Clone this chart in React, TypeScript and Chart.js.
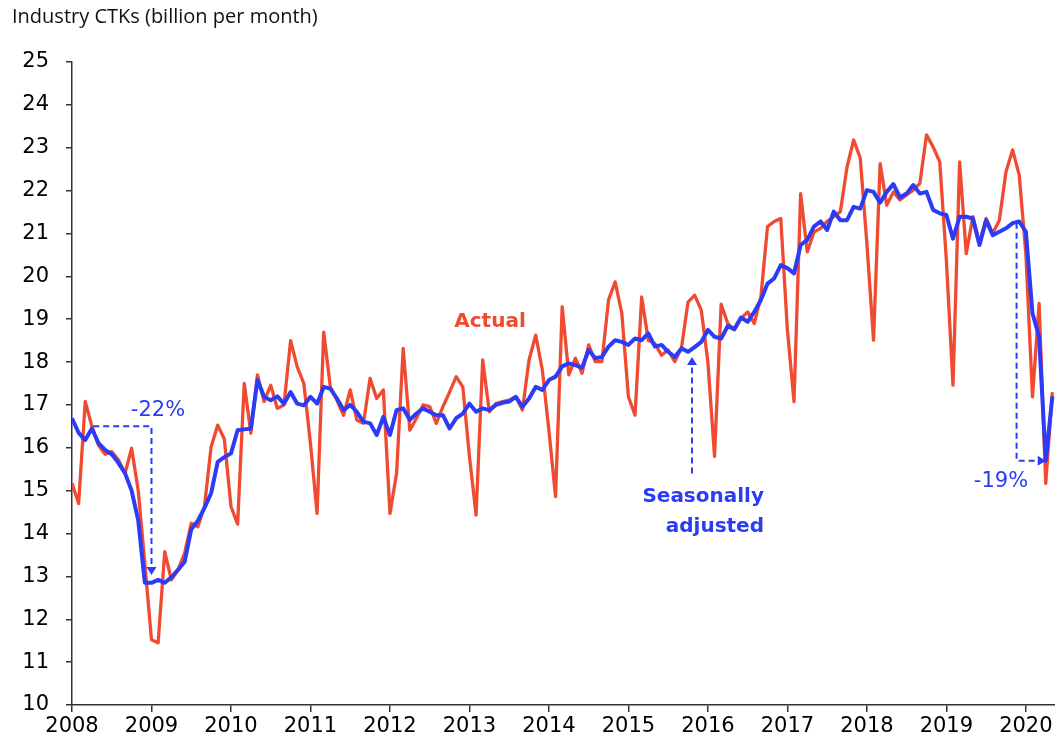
import React, { useEffect, useRef } from "react";
import { Chart, registerables } from "chart.js";

Chart.register(...registerables);

// Monthly data, Jan 2008 (index 0) .. May 2020 (index 148)
const yearLabels = ["2008", "2009", "2010", "2011", "2012", "2013", "2014", "2015", "2016", "2017", "2018", "2019", "2020"];

const actual = [
  15.17, 14.7, 17.08, 16.5, 16.06, 15.85, 15.91, 15.72, 15.4, 15.99, 15.0, 13.3,
  11.52, 11.45, 13.58, 12.92, 13.15, 13.54, 14.24, 14.16, 14.63, 16.02, 16.53, 16.2,
  14.63, 14.22, 17.5, 16.34, 17.7, 17.08, 17.46, 16.92, 17.0, 18.5, 17.89, 17.5,
  16.1, 14.47, 18.7, 17.42, 17.11, 16.76, 17.35, 16.65, 16.57, 17.62, 17.15, 17.35,
  14.47, 15.4, 18.32, 16.41, 16.69, 17.0, 16.96, 16.57, 16.96, 17.3, 17.66, 17.42,
  15.8, 14.43, 18.05, 16.84, 17.03, 17.08, 17.11, 17.19, 16.88, 18.05, 18.63, 17.82,
  16.4, 14.86, 19.29, 17.7, 18.09, 17.74, 18.4, 18.01, 18.01, 19.45, 19.87, 19.14,
  17.19, 16.76, 19.52, 18.51, 18.43, 18.16, 18.28, 18.01, 18.32, 19.4, 19.56, 19.21,
  18.0, 15.8, 19.35, 18.9, 18.75, 19.02, 19.17, 18.9, 19.52, 21.16, 21.28, 21.35,
  18.75, 17.08, 21.93, 20.57, 21.03, 21.12, 21.28, 21.39, 21.51, 22.55, 23.18, 22.76,
  20.77, 18.51, 22.63, 21.66, 21.97, 21.78, 21.9, 22.01, 22.17, 23.3, 23.02, 22.67,
  20.38, 17.46, 22.67, 20.53, 21.39, 20.77, 21.35, 21.0, 21.31, 22.44, 22.95, 22.36,
  20.53, 17.19, 19.37, 15.17, 17.3,
];

const seasonallyAdjusted = [
  16.69, 16.35, 16.18, 16.45, 16.11, 15.95, 15.85, 15.65, 15.41, 15.0, 14.3, 12.85,
  12.85, 12.92, 12.85, 12.98, 13.15, 13.34, 14.1, 14.3, 14.6, 14.94, 15.67, 15.78,
  15.87, 16.41, 16.43, 16.45, 17.58, 17.19, 17.11, 17.2, 17.03, 17.3, 17.03, 16.99,
  17.19, 17.03, 17.42, 17.38, 17.15, 16.88, 17.0, 16.84, 16.61, 16.57, 16.3, 16.72,
  16.3, 16.88, 16.92, 16.65, 16.8, 16.92, 16.84, 16.76, 16.76, 16.45, 16.69, 16.8,
  17.03, 16.84, 16.92, 16.88, 17.0, 17.05, 17.08, 17.19, 16.96, 17.15, 17.42, 17.35,
  17.58, 17.66, 17.9, 17.97, 17.93, 17.87, 18.28, 18.09, 18.12, 18.36, 18.51, 18.47,
  18.4, 18.55, 18.51, 18.67, 18.36, 18.4, 18.24, 18.12, 18.32, 18.24, 18.35, 18.47,
  18.75, 18.59, 18.55, 18.84, 18.77, 19.04, 18.94, 19.17, 19.45, 19.83, 19.95, 20.26,
  20.19, 20.07, 20.73, 20.85, 21.16, 21.28, 21.08, 21.51, 21.31, 21.31, 21.62, 21.58,
  22.01, 21.97, 21.72, 21.97, 22.15, 21.84, 21.93, 22.13, 21.93, 21.97, 21.55, 21.47,
  21.43, 20.88, 21.39, 21.39, 21.35, 20.73, 21.31, 20.96, 21.04, 21.12, 21.24, 21.28,
  21.04, 19.14, 18.59, 15.7, 17.2,
];

const BLUE = "#2B3BF6";
const RED = "#F04A30";
const AXIS = "#333333";

export default function App() {
  const ref = useRef<HTMLCanvasElement | null>(null);

  useEffect(() => {
    document.body.style.margin = "0";
    const canvas = ref.current;
    if (!canvas) return;

    const annot = {
      id: "annot",
      afterDatasetsDraw(chart: any) {
        const ctx = chart.ctx as CanvasRenderingContext2D;
        const xs = chart.scales.x;
        const ys = chart.scales.y;
        const px = (v: number) => xs.getPixelForValue(v);
        const py = (v: number) => ys.getPixelForValue(v);

        const dashed = (pts: [number, number][]) => {
          ctx.save();
          ctx.strokeStyle = BLUE;
          ctx.lineWidth = 2;
          ctx.setLineDash([6, 4]);
          ctx.beginPath();
          pts.forEach(([x, y], k) => {
            if (k === 0) ctx.moveTo(px(x), py(y));
            else ctx.lineTo(px(x), py(y));
          });
          ctx.stroke();
          ctx.restore();
        };
        const head = (x: number, y: number, dir: "down" | "up" | "right") => {
          const X = px(x);
          const Y = py(y);
          ctx.save();
          ctx.fillStyle = BLUE;
          ctx.beginPath();
          if (dir === "down") {
            ctx.moveTo(X, Y);
            ctx.lineTo(X - 5, Y - 8);
            ctx.lineTo(X + 5, Y - 8);
          } else if (dir === "up") {
            ctx.moveTo(X, Y);
            ctx.lineTo(X - 5, Y + 8);
            ctx.lineTo(X + 5, Y + 8);
          } else {
            ctx.moveTo(X, Y);
            ctx.lineTo(X - 8, Y - 5);
            ctx.lineTo(X - 8, Y + 5);
          }
          ctx.closePath();
          ctx.fill();
          ctx.restore();
        };

        // -22% arrow
        dashed([[3.2, 16.5], [12, 16.5], [12, 13.2]]);
        head(12, 13.03, "down");
        // -19% arrow
        dashed([[142.6, 21.25], [142.6, 15.7], [146.0, 15.7]]);
        head(147.0, 15.7, "right");
        // Seasonally adjusted arrow
        dashed([[93.6, 15.4], [93.6, 17.95]]);
        head(93.6, 18.12, "up");

        ctx.save();
        ctx.textBaseline = "middle";
        ctx.textAlign = "center";
        ctx.fillStyle = BLUE;
        ctx.font = "21px 'DejaVu Sans'";
        ctx.fillText("-22%", 158, 411);
        ctx.fillText("-19%", 1001, 482);
        ctx.fillStyle = RED;
        ctx.font = "bold 20px 'DejaVu Sans'";
        ctx.fillText("Actual", 490, 322);
        ctx.fillStyle = BLUE;
        ctx.textAlign = "right";
        ctx.fillText("Seasonally", 764, 497);
        ctx.fillText("adjusted", 764, 527);
        // title
        ctx.textAlign = "left";
        ctx.textBaseline = "alphabetic";
        ctx.fillStyle = "#111111";
        ctx.font = "20px 'Open Sans'";
        ctx.fillText("Industry CTKs (billion per month)", 12, 23);
        ctx.restore();
      },
    };

    const chart = new Chart(canvas, {
      type: "line",
      data: {
        datasets: [
          {
            label: "Seasonally adjusted",
            data: seasonallyAdjusted.map((y, i) => ({ x: i, y })),
            borderColor: BLUE,
            backgroundColor: BLUE,
            borderWidth: 4,
            pointRadius: 0,
            tension: 0,
            borderJoinStyle: "round",
          },
          {
            label: "Actual",
            data: actual.map((y, i) => ({ x: i, y })),
            borderColor: RED,
            backgroundColor: RED,
            borderWidth: 3.3,
            pointRadius: 0,
            tension: 0,
            borderJoinStyle: "round",
          },
        ],
      },
      options: {
        responsive: false,
        animation: false,
        events: [],
        layout: { padding: { top: 62, right: 0, left: 0, bottom: 0 } },
        plugins: {
          legend: { display: false },
          tooltip: { enabled: false },
          title: { display: false },
        },
        scales: {
          x: {
            type: "linear",
            min: 0,
            max: 148.4,
            afterBuildTicks: (s: any) => {
              s.ticks = yearLabels.map((_, k) => ({ value: k * 12 }));
            },
            afterFit: (s: any) => {
              s.height = 49;
            },
            ticks: {
              autoSkip: false,
              maxRotation: 0,
              padding: 2,
              color: "#000000",
              font: { family: "'DejaVu Sans'", size: 21 },
              callback: (v: any) => yearLabels[Math.round(Number(v) / 12)] ?? "",
            },
            grid: { drawOnChartArea: false, drawTicks: true, tickLength: 7, color: AXIS, lineWidth: 1.5 },
            border: { display: true, color: AXIS, width: 1.5 },
          },
          y: {
            min: 10,
            max: 25,
            afterFit: (s: any) => {
              s.width = 72;
            },
            ticks: {
              stepSize: 1,
              padding: 17,
              color: "#000000",
              font: { family: "'DejaVu Sans'", size: 21 },
            },
            grid: { drawOnChartArea: false, drawTicks: true, tickLength: 6, color: AXIS, lineWidth: 1.5 },
            border: { display: true, color: AXIS, width: 1.5 },
          },
        },
      },
      plugins: [annot],
    } as any);

    return () => chart.destroy();
  }, []);

  return (
    <div style={{ position: "relative", width: 1055, height: 754, background: "#ffffff" }}>
      <canvas ref={ref} width={1055} height={754} style={{ display: "block", width: 1055, height: 754 }} />
    </div>
  );
}
